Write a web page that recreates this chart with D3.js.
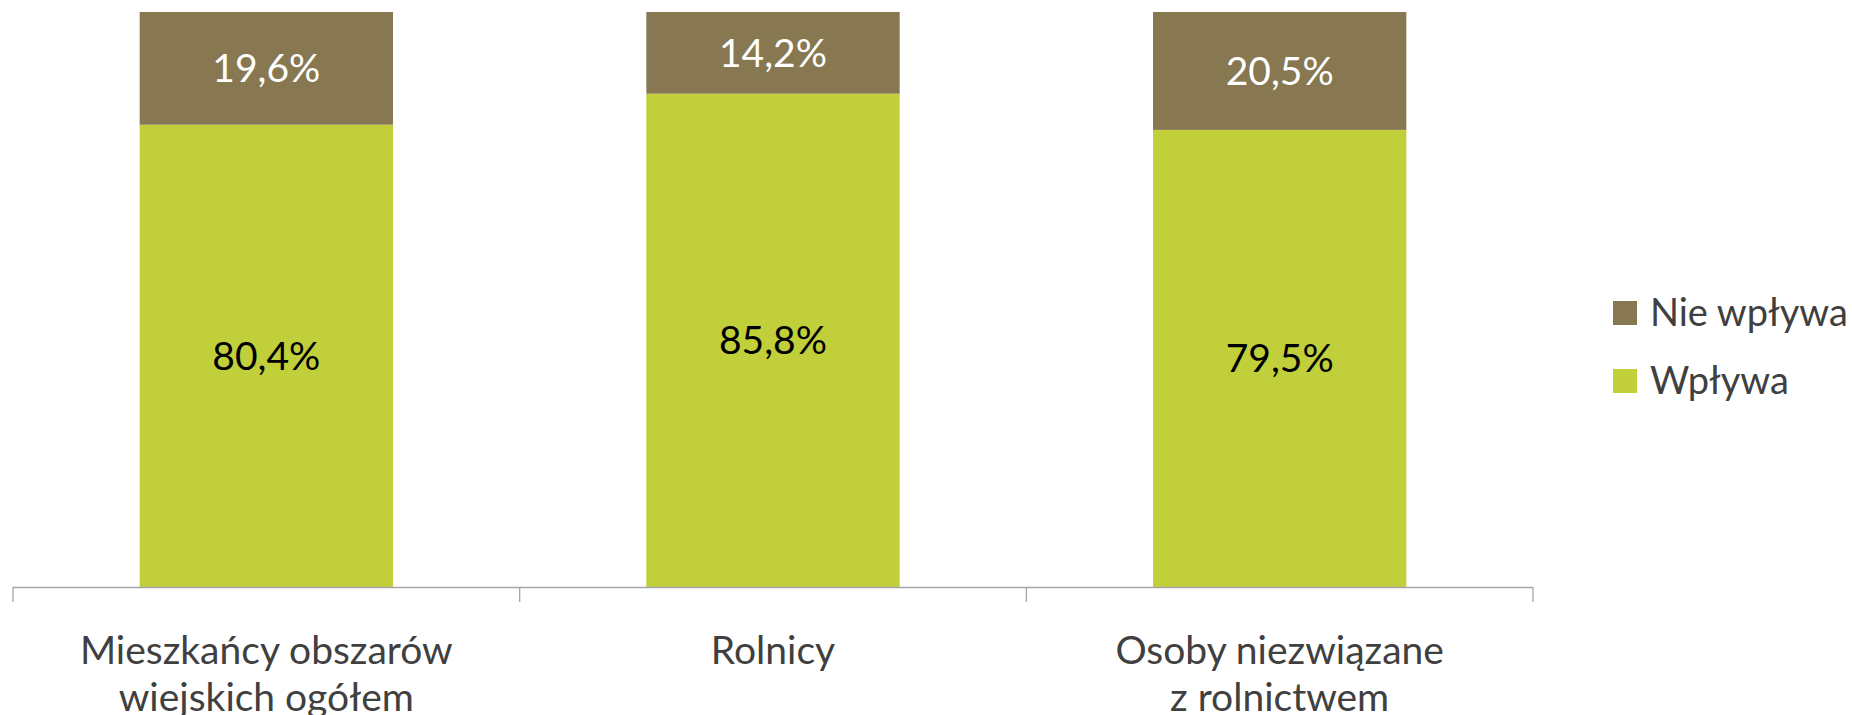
<!DOCTYPE html>
<html>
<head>
<meta charset="utf-8">
<script src="https://cdn.jsdelivr.net/npm/d3@7"></script>
<style>
  body { margin: 0; background: #fff; }
  svg { display: block; font-family: Lato, "Open Sans", sans-serif; }
</style>
</head>
<body>
<svg id="chart" width="1852" height="715"></svg>
<script>
// chart data
var categories = ["Mieszkańcy obszarów wiejskich ogółem", "Rolnicy", "Osoby niezwiązane z rolnictwem"];
var categoryLines = [["Mieszkańcy obszarów", "wiejskich ogółem"], ["Rolnicy"], ["Osoby niezwiązane", "z rolnictwem"]];
var wplywa = [80.4, 85.8, 79.5];
var nieWplywa = [19.6, 14.2, 20.5];
var seriesNames = ["Nie wpływa", "Wpływa"];
var seriesColors = ["#877852", "#c1d03a"];

var svg = d3.select("#chart");
var plotLeft = 13, plotRight = 1533, plotTop = 12, plotBottom = 587;

var x = d3.scaleBand()
  .domain(categories)
  .range([plotLeft, plotRight])
  .paddingInner(0.5)
  .paddingOuter(0.25);

var y = d3.scaleLinear().domain([0, 100]).range([plotBottom, plotTop]);

function fmt(v) {
  return v.toFixed(1).replace(".", ",") + "%";
}

// green (Wpływa) segments
svg.append("g").selectAll("rect")
  .data(categories)
  .enter()
  .append("rect")
  .attr("x", function(d) { return x(d); })
  .attr("width", x.bandwidth())
  .attr("y", function(d, i) { return y(wplywa[i]); })
  .attr("height", function(d, i) { return y(0) - y(wplywa[i]); })
  .style("fill", seriesColors[1]);

// brown (Nie wpływa) segments on top
svg.append("g").selectAll("rect")
  .data(categories)
  .enter()
  .append("rect")
  .attr("x", function(d) { return x(d); })
  .attr("width", x.bandwidth())
  .attr("y", function(d, i) { return y(wplywa[i] + nieWplywa[i]); })
  .attr("height", function(d, i) { return y(wplywa[i]) - y(wplywa[i] + nieWplywa[i]); })
  .style("fill", seriesColors[0]);

// value labels
svg.append("g").selectAll("text")
  .data(categories)
  .enter()
  .append("text")
  .attr("x", function(d) { return x(d) + x.bandwidth() / 2; })
  .attr("y", function(d, i) { return (y(0) + y(wplywa[i])) / 2 + 14; })
  .attr("text-anchor", "middle")
  .style("font-size", "39px")
  .style("fill", "#000")
  .text(function(d, i) { return fmt(wplywa[i]); });

svg.append("g").selectAll("text")
  .data(categories)
  .enter()
  .append("text")
  .attr("x", function(d) { return x(d) + x.bandwidth() / 2; })
  .attr("y", function(d, i) { return (y(wplywa[i]) + y(wplywa[i] + nieWplywa[i])) / 2 + 14; })
  .attr("text-anchor", "middle")
  .style("font-size", "39px")
  .style("fill", "#fff")
  .text(function(d, i) { return fmt(nieWplywa[i]); });

// category axis line + ticks between categories
var axis = svg.append("g").style("stroke", "#a6a6a6").style("stroke-width", 1.3);
axis.append("line")
  .attr("x1", plotLeft).attr("x2", plotRight)
  .attr("y1", plotBottom + 0.5).attr("y2", plotBottom + 0.5);
var tickPos = d3.range(categories.length + 1).map(function(i) { return plotLeft + i * x.step(); });
axis.selectAll(".tick")
  .data(tickPos)
  .enter()
  .append("line")
  .attr("x1", function(d) { return d; })
  .attr("x2", function(d) { return d; })
  .attr("y1", plotBottom)
  .attr("y2", plotBottom + 15);

// category labels
var labels = svg.append("g").selectAll("text")
  .data(categories)
  .enter()
  .append("text")
  .attr("text-anchor", "middle")
  .style("font-size", "39px")
  .style("fill", "#404040");
labels.each(function(d, i) {
  var t = d3.select(this);
  categoryLines[i].forEach(function(line, j) {
    t.append("tspan")
      .attr("x", x(d) + x.bandwidth() / 2)
      .attr("y", 664 + j * 47)
      .text(line);
  });
});

// legend
var legend = svg.append("g").selectAll("g")
  .data(seriesNames)
  .enter()
  .append("g")
  .attr("transform", function(d, i) { return "translate(1613," + (301 + i * 68) + ")"; });
legend.append("rect")
  .attr("width", 24).attr("height", 24)
  .style("fill", function(d, i) { return seriesColors[i]; });
legend.append("text")
  .attr("x", 37).attr("y", 25)
  .style("font-size", "38px")
  .style("fill", "#404040")
  .text(function(d) { return d; });
</script>
</body>
</html>
